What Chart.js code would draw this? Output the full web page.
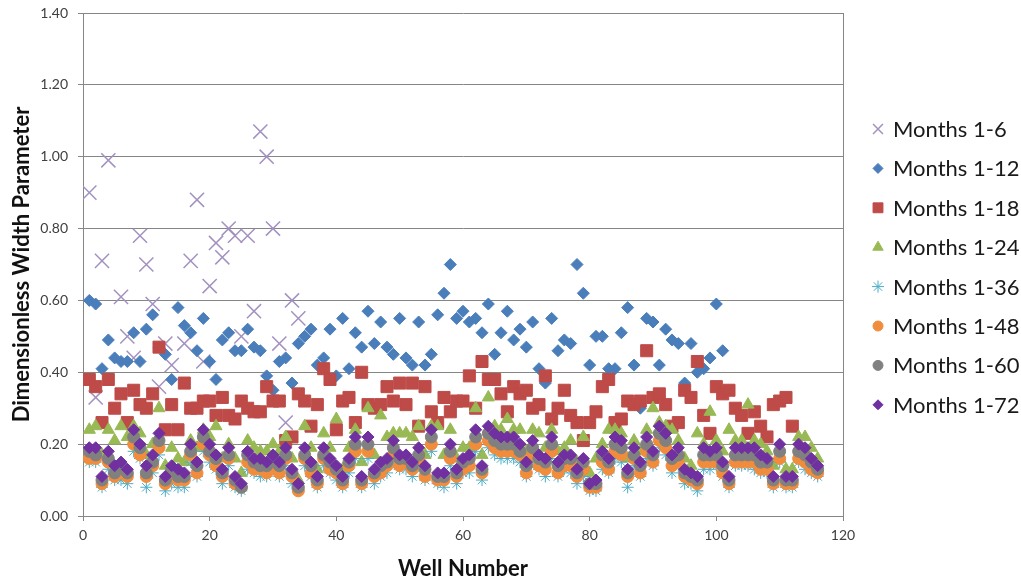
<!DOCTYPE html>
<html>
<head>
<meta charset="utf-8">
<script src="https://cdn.jsdelivr.net/npm/chart.js@4.4.1/dist/chart.umd.min.js"></script>
<style>
  body { margin: 0; background: #fff; }
  #wrap { width: 1021px; height: 584px; }
</style>
</head>
<body>
<div id="wrap"><canvas id="widthChart" width="1021" height="584"></canvas></div>
<script>
// well numbers 1..116
const wells = Array.from({ length: 116 }, (_, i) => i + 1);

const seriesNames = ['Months 1-6', 'Months 1-12', 'Months 1-18', 'Months 1-24',
                     'Months 1-36', 'Months 1-48', 'Months 1-60', 'Months 1-72'];

const yTicks = [0, 0.2, 0.4, 0.6, 0.8, 1.0, 1.2, 1.4];
const xTicks = [0, 20, 40, 60, 80, 100, 120];

const months6 = [0.90, 0.33, 0.71, 0.99, null, 0.61, 0.50, 0.44, 0.78, 0.70,
                 0.59, 0.36, 0.48, 0.42, null, 0.48, 0.71, 0.88, 0.43, 0.64,
                 0.76, 0.72, 0.80, 0.78, 0.50, 0.78, 0.57, 1.07, 1.00, 0.80,
                 0.48, 0.26, 0.60, 0.55];

const months12 = [0.60, 0.59, 0.41, 0.49, 0.44, 0.43, 0.43, 0.51, 0.43, 0.52,
                  0.56, 0.47, 0.45, 0.38, 0.58, 0.53, 0.51, 0.46, 0.55, 0.43,
                  0.38, 0.49, 0.51, 0.46, 0.46, 0.52, 0.47, 0.46, 0.39, 0.35,
                  0.43, 0.44, 0.37, 0.48, 0.50, 0.52, 0.42, 0.44, 0.52, 0.39,
                  0.55, 0.41, 0.51, 0.47, 0.57, 0.48, 0.54, 0.47, 0.45, 0.55,
                  0.44, 0.42, 0.54, 0.42, 0.45, 0.56, 0.62, 0.70, 0.55, 0.57,
                  0.54, 0.55, 0.51, 0.59, 0.45, 0.51, 0.57, 0.49, 0.52, 0.47,
                  0.54, 0.41, 0.37, 0.55, 0.46, 0.49, 0.48, 0.70, 0.62, 0.42,
                  0.50, 0.50, 0.41, 0.41, 0.51, 0.58, 0.42, 0.30, 0.55, 0.54,
                  0.42, 0.52, 0.49, 0.48, 0.37, 0.48, 0.40, 0.41, 0.44, 0.59,
                  0.46];

const months18 = [0.38, 0.36, 0.26, 0.38, 0.30, 0.34, 0.26, 0.35, 0.31, 0.30,
                  0.34, 0.47, 0.24, 0.31, 0.24, 0.37, 0.30, 0.30, 0.32, 0.32,
                  0.28, 0.33, 0.28, 0.27, 0.32, 0.30, 0.29, 0.29, 0.36, 0.32,
                  0.32, 0.21, 0.22, 0.34, 0.32, 0.25, 0.31, 0.41, 0.38, 0.24,
                  0.32, 0.33, 0.26, 0.40, 0.31, 0.30, 0.31, 0.36, 0.32, 0.37,
                  0.31, 0.37, 0.25, 0.36, 0.29, 0.26, 0.33, 0.29, 0.32, 0.32,
                  0.39, 0.30, 0.43, 0.38, 0.38, 0.34, 0.29, 0.36, 0.34, 0.35,
                  0.30, 0.31, 0.39, 0.27, 0.30, 0.35, 0.28, 0.26, 0.21, 0.26,
                  0.29, 0.36, 0.38, 0.26, 0.27, 0.32, 0.31, 0.32, 0.46, 0.33,
                  0.34, 0.31, 0.25, 0.26, 0.35, 0.33, 0.43, 0.28, 0.23, 0.36,
                  0.34, 0.35, 0.30, 0.28, 0.23, 0.29, 0.25, 0.22, 0.31, 0.32,
                  0.33, 0.25];

const months24 = [0.24, 0.25, 0.17, 0.24, 0.21, 0.25, 0.22, 0.25, 0.23, 0.17,
                  0.20, 0.30, 0.14, 0.19, 0.16, 0.15, 0.21, 0.19, 0.24, 0.22,
                  0.25, 0.16, 0.20, 0.16, 0.12, 0.21, 0.19, 0.18, 0.18, 0.20,
                  0.18, 0.22, 0.16, 0.10, 0.25, 0.19, 0.13, 0.23, 0.19, 0.27,
                  0.13, 0.19, 0.24, 0.15, 0.30, 0.17, 0.28, 0.22, 0.23, 0.23,
                  0.23, 0.22, 0.25, 0.17, 0.25, 0.25, 0.17, 0.24, 0.16, 0.19,
                  0.19, 0.30, 0.17, 0.33, 0.25, 0.24, 0.27, 0.24, 0.24, 0.18,
                  0.24, 0.23, 0.19, 0.24, 0.18, 0.19, 0.21, 0.15, 0.22, 0.12,
                  0.16, 0.20, 0.24, 0.24, 0.23, 0.16, 0.21, 0.18, 0.24, 0.30,
                  0.26, 0.25, 0.24, 0.21, 0.16, 0.14, 0.23, 0.20, 0.29, 0.21,
                  0.18, 0.24, 0.21, 0.21, 0.31, 0.21, 0.20, 0.18, 0.14, 0.16,
                  0.13, 0.13, 0.22, 0.22, 0.19, 0.16];

const months36 = [0.15, 0.15, 0.08, 0.13, 0.10, 0.10, 0.09, 0.18, 0.16, 0.08,
                  0.12, 0.17, 0.07, 0.09, 0.08, 0.08, 0.15, 0.11, 0.18, 0.15,
                  0.13, 0.09, 0.14, 0.08, 0.07, 0.13, 0.12, 0.11, 0.11, 0.13,
                  0.11, 0.14, 0.09, 0.07, 0.14, 0.11, 0.08, 0.14, 0.12, 0.10,
                  0.08, 0.12, 0.16, 0.08, 0.16, 0.09, 0.11, 0.12, 0.15, 0.13,
                  0.13, 0.11, 0.14, 0.10, 0.18, 0.09, 0.08, 0.14, 0.09, 0.12,
                  0.12, 0.18, 0.10, 0.19, 0.17, 0.16, 0.16, 0.16, 0.15, 0.11,
                  0.15, 0.13, 0.11, 0.16, 0.11, 0.13, 0.12, 0.09, 0.11, 0.07,
                  0.07, 0.13, 0.12, 0.16, 0.15, 0.08, 0.14, 0.11, 0.16, 0.14,
                  0.19, 0.17, 0.12, 0.14, 0.09, 0.09, 0.07, 0.13, 0.13, 0.14,
                  0.11, 0.08, 0.14, 0.14, 0.14, 0.13, 0.12, 0.12, 0.08, 0.15,
                  0.08, 0.08, 0.15, 0.13, 0.12, 0.11];

const months48 = [0.16, 0.16, 0.09, 0.15, 0.11, 0.12, 0.11, 0.20, 0.17, 0.11,
                  0.14, 0.19, 0.09, 0.11, 0.10, 0.10, 0.17, 0.12, 0.20, 0.17,
                  0.14, 0.11, 0.16, 0.09, 0.08, 0.15, 0.13, 0.13, 0.12, 0.14,
                  0.12, 0.16, 0.11, 0.07, 0.16, 0.12, 0.09, 0.16, 0.13, 0.12,
                  0.09, 0.14, 0.18, 0.09, 0.18, 0.11, 0.12, 0.14, 0.17, 0.14,
                  0.15, 0.13, 0.16, 0.11, 0.20, 0.10, 0.10, 0.16, 0.11, 0.13,
                  0.14, 0.20, 0.12, 0.21, 0.19, 0.18, 0.18, 0.18, 0.17, 0.12,
                  0.17, 0.14, 0.13, 0.18, 0.12, 0.14, 0.14, 0.11, 0.13, 0.08,
                  0.08, 0.15, 0.13, 0.18, 0.17, 0.11, 0.16, 0.12, 0.18, 0.15,
                  0.21, 0.19, 0.14, 0.15, 0.11, 0.10, 0.09, 0.15, 0.15, 0.15,
                  0.12, 0.09, 0.15, 0.15, 0.15, 0.15, 0.13, 0.13, 0.09, 0.16,
                  0.09, 0.09, 0.16, 0.15, 0.13, 0.12];

const months60 = [0.18, 0.17, 0.10, 0.16, 0.12, 0.14, 0.12, 0.22, 0.19, 0.12,
                  0.15, 0.21, 0.10, 0.13, 0.11, 0.11, 0.18, 0.14, 0.22, 0.18,
                  0.16, 0.12, 0.17, 0.10, 0.08, 0.17, 0.15, 0.14, 0.14, 0.16,
                  0.14, 0.17, 0.12, 0.08, 0.17, 0.14, 0.10, 0.17, 0.15, 0.13,
                  0.10, 0.15, 0.20, 0.10, 0.20, 0.12, 0.14, 0.15, 0.19, 0.16,
                  0.16, 0.14, 0.17, 0.13, 0.22, 0.11, 0.11, 0.18, 0.12, 0.15,
                  0.16, 0.22, 0.13, 0.23, 0.21, 0.20, 0.20, 0.20, 0.18, 0.14,
                  0.19, 0.16, 0.15, 0.20, 0.14, 0.16, 0.16, 0.12, 0.15, 0.09,
                  0.09, 0.17, 0.15, 0.20, 0.19, 0.12, 0.17, 0.14, 0.20, 0.17,
                  0.23, 0.21, 0.16, 0.17, 0.12, 0.11, 0.10, 0.17, 0.17, 0.17,
                  0.14, 0.10, 0.17, 0.17, 0.17, 0.17, 0.15, 0.15, 0.10, 0.18,
                  0.10, 0.10, 0.18, 0.17, 0.15, 0.13];

const months72 = [0.19, 0.19, 0.11, 0.18, 0.14, 0.15, 0.13, 0.24, 0.20, 0.14,
                  0.17, 0.23, 0.11, 0.14, 0.13, 0.12, 0.20, 0.15, 0.24, 0.20,
                  0.17, 0.13, 0.19, 0.11, 0.09, 0.18, 0.16, 0.16, 0.15, 0.17,
                  0.15, 0.19, 0.13, 0.09, 0.19, 0.15, 0.11, 0.19, 0.16, 0.14,
                  0.11, 0.16, 0.22, 0.11, 0.22, 0.13, 0.15, 0.16, 0.21, 0.17,
                  0.17, 0.15, 0.19, 0.14, 0.24, 0.12, 0.12, 0.20, 0.13, 0.16,
                  0.17, 0.24, 0.14, 0.25, 0.23, 0.22, 0.22, 0.22, 0.20, 0.15,
                  0.21, 0.17, 0.16, 0.22, 0.15, 0.17, 0.17, 0.13, 0.16, 0.09,
                  0.10, 0.18, 0.16, 0.22, 0.21, 0.13, 0.19, 0.15, 0.22, 0.18,
                  0.25, 0.23, 0.17, 0.19, 0.13, 0.12, 0.11, 0.19, 0.18, 0.19,
                  0.15, 0.11, 0.19, 0.19, 0.19, 0.19, 0.17, 0.16, 0.11, 0.20,
                  0.11, 0.11, 0.20, 0.19, 0.16, 0.14];

function toPoints(values) {
    return values.map((v, i) => ({ x: wells[i], y: v }));
}

// marker look per series (same order as seriesNames); legendRadius is the small key marker
const markerStyles = [
    { color: '#a391c0', style: 'crossRot', radius: 10, border: 1.5, legendRadius: 7 },
    { color: '#4a7ebb', style: 'rectRot', radius: 6, border: 1, legendRadius: 5 },
    { color: '#be4b48', style: 'rect', radius: 8.5, border: 1, legendRadius: 7 },
    { color: '#98b954', style: 'triangle', radius: 7, border: 1, legendRadius: 6 },
    { color: '#4bacc6', style: 'star', radius: 6, border: 1, legendRadius: 6 },
    { color: '#f08c3c', style: 'circle', radius: 6, border: 1, legendRadius: 5 },
    { color: '#808080', style: 'circle', radius: 6, border: 1, legendRadius: 5 },
    { color: '#7030a0', style: 'rectRot', radius: 6, border: 1, legendRadius: 5 }
];

const allValues = [months6, months12, months18, months24, months36, months48, months60, months72];

// Chart.js paints dataset 0 on top, so feed the series backwards (1-72 on top, like Excel)
const datasets = [];
for (let i = seriesNames.length - 1; i >= 0; i--) {
    const m = markerStyles[i];
    datasets.push({
        label: seriesNames[i],
        data: toPoints(allValues[i]),
        pointStyle: m.style,
        pointRadius: m.radius,
        pointHoverRadius: m.radius,
        pointBorderWidth: m.border,
        backgroundColor: m.color,
        borderColor: m.color,
        showLine: false
    });
}

// right border of the plot area + Excel-like legend on the right
const plotExtras = {
    id: 'plotExtras',
    afterDraw(chart) {
        const a = chart.chartArea;
        const ctx = chart.ctx;
        ctx.save();
        ctx.strokeStyle = '#868686';
        ctx.lineWidth = 1;
        ctx.beginPath();
        ctx.moveTo(Math.round(a.right) + 0.5, a.top);
        ctx.lineTo(Math.round(a.right) + 0.5, a.bottom);
        ctx.stroke();

        const markerX = a.right + 35;
        const textX = a.right + 50;
        const firstY = 129;
        const stepY = 39.4;
        ctx.font = '22px Lato';
        ctx.textBaseline = 'middle';
        ctx.textAlign = 'left';
        seriesNames.forEach((name, i) => {
            const m = markerStyles[i];
            const y = firstY + i * stepY;
            ctx.fillStyle = m.color;
            ctx.strokeStyle = m.color;
            ctx.lineWidth = m.border;
            Chart.helpers.drawPoint(ctx, {
                pointStyle: m.style,
                radius: m.legendRadius,
                rotation: 0,
                borderWidth: m.border
            }, markerX, y);
            ctx.fillStyle = '#1a1a1a';
            ctx.fillText(name, textX, y + 1);
        });
        ctx.restore();
    }
};

const ctx = document.getElementById('widthChart').getContext('2d');
new Chart(ctx, {
    type: 'scatter',
    data: { datasets: datasets },
    plugins: [plotExtras],
    options: {
        responsive: false,
        animation: false,
        devicePixelRatio: 1,
        layout: { padding: { left: 9, top: 0, right: 178, bottom: 2 } },
        scales: {
            x: {
                type: 'linear',
                min: 0,
                max: 120,
                afterBuildTicks: axis => { axis.ticks = xTicks.map(v => ({ value: v })); },
                afterFit: axis => { axis.height = 66; },
                ticks: {
                    color: '#404040',
                    font: { family: 'Lato', size: 14 },
                    padding: 6,
                    callback: v => String(v)
                },
                grid: { drawOnChartArea: false, drawTicks: true, tickLength: 5, color: '#868686' },
                border: { color: '#868686' },
                title: {
                    display: true,
                    text: 'Well Number',
                    color: '#111',
                    font: { family: 'Lato', size: 22, weight: 'bold' },
                    padding: { top: 10, bottom: 0 }
                }
            },
            y: {
                min: 0,
                max: 1.4,
                afterBuildTicks: axis => { axis.ticks = yTicks.map(v => ({ value: v })); },
                afterFit: axis => { axis.width = 74; axis.paddingTop = 13; },
                ticks: {
                    color: '#404040',
                    font: { family: 'Lato', size: 14 },
                    padding: 10,
                    callback: v => Number(v).toFixed(2)
                },
                grid: { color: '#868686', tickLength: 5 },
                border: { color: '#868686' },
                title: {
                    display: true,
                    text: 'Dimensionless Width Parameter',
                    color: '#111',
                    font: { family: 'Lato', size: 22, weight: 'bold' },
                    padding: { top: 0, bottom: 4 }
                }
            }
        },
        plugins: {
            tooltip: { enabled: false },
            legend: { display: false }
        }
    }
});
</script>
</body>
</html>
